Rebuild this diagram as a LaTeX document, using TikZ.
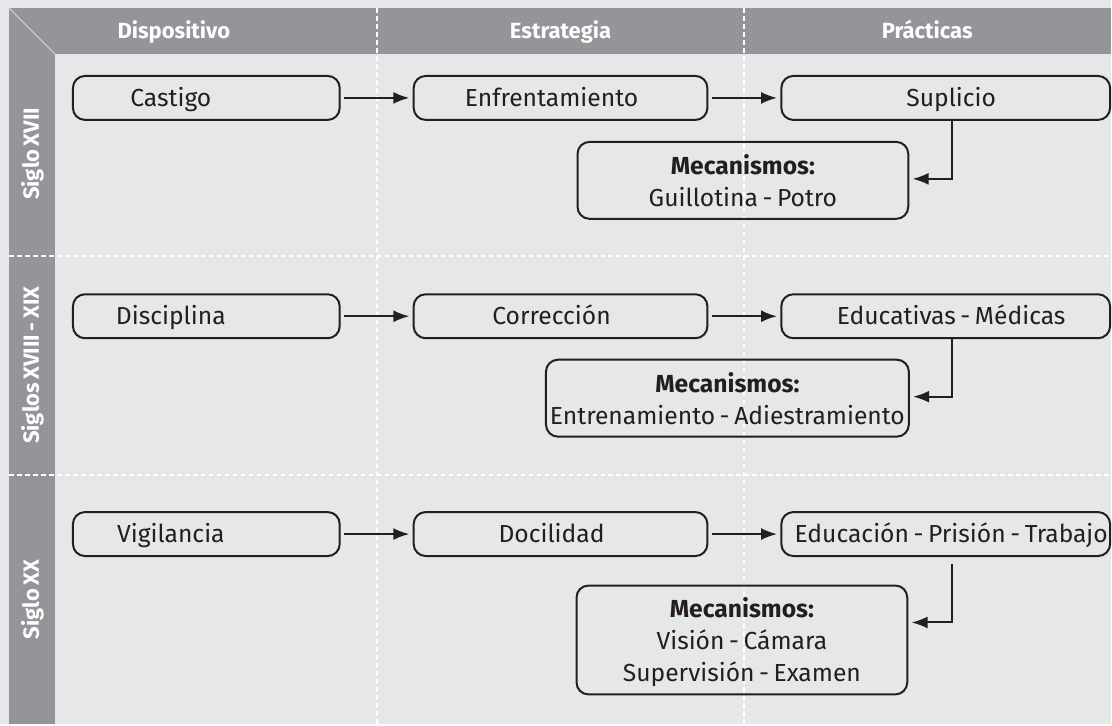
\documentclass[tikz,border=0pt]{standalone}
\usepackage{fontspec}
\setmainfont{Fira Sans}[WordSpace=0.7]
\usetikzlibrary{arrows.meta}
\definecolor{fondo}{HTML}{E6E7E8}
\definecolor{banda}{HTML}{939598}
\definecolor{diag}{HTML}{C9CACC}
\definecolor{tinta}{HTML}{231F20}

\begin{document}
\begin{tikzpicture}[x=0.75pt,y=-0.75pt]

	\tikzstyle{base} = [draw=tinta,line width=1.5pt,rounded corners=9pt,text=tinta,font=\fontsize{18.5}{24}\selectfont]
	\tikzstyle{cbox} = [base,minimum height=33pt,inner xsep=0pt,text height=12.75pt,text depth=0pt]
	\tikzstyle{mbox} = [base,align=center,inner xsep=3pt,inner ysep=0pt,text depth=0pt]
	\tikzstyle{hlabel} = [text=white,anchor=base,font=\fontsize{16.5}{20}\selectfont\bfseries]
	\tikzstyle{cedge} = [-{Latex[length=12pt,width=9pt]},line width=1.5pt,draw=tinta,shorten <=2.5pt,shorten >=2.5pt]
	\tikzstyle{mecedge} = [cedge,shorten <=0pt]
	\tikzstyle{grid} = [white,line width=1.4pt,dash pattern=on 3.5pt off 2.5pt]

	% fondo y bandas
	\fill[fondo] (0,0) rectangle (1112,725);
	\fill[banda] (9,8) rectangle (1112,54);
	\fill[banda] (9,8) rectangle (55,725);
	\draw[diag,line width=1pt] (9,8) -- (55,54);
	\draw[grid] (377,8) -- (377,725);
	\draw[grid] (745,8) -- (745,725);
	\draw[grid] (9,256) -- (1112,256);
	\draw[grid] (9,475) -- (1112,475);

	\node[hlabel] (h1) at (174,39) {Dispositivo};
	\node[hlabel] (h2) at (561,39) {Estrategia};
	\node[hlabel] (h3) at (928,39) {Prácticas};
	\node[hlabel,rotate=90] (s1) at (39,154) {Siglo XVII};
	\node[hlabel,rotate=90] (s2) at (39,365.5) {Siglos XVIII - XIX};
	\node[hlabel,rotate=90] (s3) at (39,600) {Siglo XX};

	% siglo XVII
	\node[cbox] (d1) at (206.5,98) {\makebox[200.25pt][l]{\makebox[147pt]{Castigo}}};
	\node[cbox] (e1) at (561,98) {\makebox[220.5pt][l]{\makebox[207pt]{Enfrentamiento}}};
	\node[cbox] (p1) at (946.5,98) {\makebox[246.75pt][r]{\makebox[238.5pt]{Suplicio}}};
	\node[mbox,minimum width=248.25pt,minimum height=57.75pt] (m1) at (743.5,180.5) {\textbf{Mecanismos:}\\Guillotina - Potro};

	% siglos XVIII - XIX
	\node[cbox] (d2) at (206.5,316.5) {\makebox[200.25pt][l]{\makebox[147pt]{Disciplina}}};
	\node[cbox] (e2) at (561,316.5) {\makebox[220.5pt][l]{\makebox[207pt]{Corrección}}};
	\node[cbox] (p2) at (946.5,316.5) {\makebox[246.75pt][r]{\makebox[238.5pt]{Educativas - Médicas}}};
	\node[mbox,minimum width=270pt,minimum height=57.75pt] (m2) at (728,398.5) {\textbf{Mecanismos:}\\Entrenamiento - Adiestramiento};

	% siglo XX
	\node[cbox] (d3) at (206.5,534.5) {\makebox[200.25pt][l]{\makebox[147pt]{Vigilancia}}};
	\node[cbox] (e3) at (561,534.5) {\makebox[220.5pt][l]{\makebox[207pt]{Docilidad}}};
	\node[cbox] (p3) at (946.5,534.5) {\makebox[246.75pt][r]{\makebox[238.5pt]{Educación - Prisión - Trabajo}}};
	\node[mbox,minimum width=248.25pt,minimum height=81.75pt] (m3) at (742.5,640.5) {\textbf{Mecanismos:}\\Visión - Cámara\\Supervisión - Examen};

	\draw (d1) edge [cedge] (e1);
	\draw (e1) edge [cedge] (p1);
	\draw (d2) edge [cedge] (e2);
	\draw (e2) edge [cedge] (p2);
	\draw (d3) edge [cedge] (e3);
	\draw (e3) edge [cedge] (p3);

	\draw[mecedge] ([xshift=5pt]p1.south) |- ([yshift=-28.5pt]m1.north east);
	\draw[mecedge] ([xshift=5pt]p2.south) |- ([yshift=-28.5pt]m2.north east);
	\draw[mecedge,shorten <=5pt] ([xshift=5pt]p3.south) |- ([yshift=-28.5pt]m3.north east);

\end{tikzpicture}
\end{document}
